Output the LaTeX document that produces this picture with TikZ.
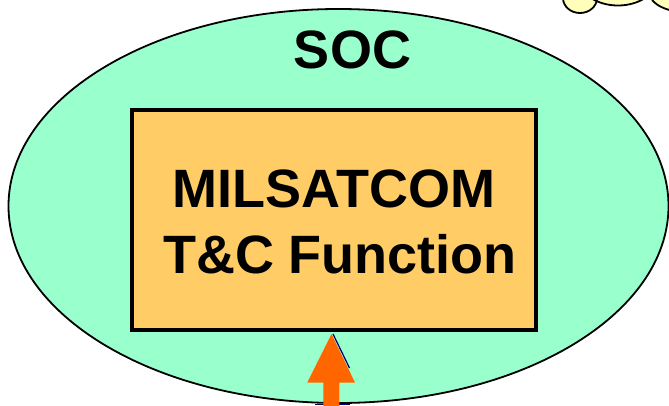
\documentclass[tikz,border=0pt]{standalone}
\usepackage{fontspec}
\setmainfont{Liberation Sans}
\usetikzlibrary{shapes.geometric}
\definecolor{socgreen}{HTML}{99FFCC}
\definecolor{boxorange}{HTML}{FFCC66}
\definecolor{arroworange}{HTML}{FF6600}
\definecolor{cloudyellow}{HTML}{FFFFBB}
\definecolor{shadownavy}{HTML}{000066}
\begin{document}
\begin{tikzpicture}[x=1pt,y=-1pt,
  bigtext/.style={font=\fontsize{54}{66}\selectfont\bfseries, inner sep=0pt, text=black},
  bubble/.style={fill=cloudyellow},
  bubbleline/.style={draw=black, line width=1.8pt}]
\useasboundingbox (0,0) rectangle (669,405);
\clip (0,0) rectangle (669,405);
% cloud (partial, top right)
\fill[bubble] (580,-2) ellipse [x radius=17, y radius=15];
\fill[bubble] (618,-20) ellipse [x radius=38, y radius=25.5];
\fill[bubble] (692,-6) ellipse [x radius=42, y radius=19];
\draw[bubbleline] (580,-2) ellipse [x radius=17, y radius=15];
\draw[bubbleline] (618,-20) ellipse [x radius=38, y radius=25.5];
\draw[bubbleline] (692,-6) ellipse [x radius=42, y radius=19];
% SOC ellipse
\node[ellipse, draw=black, line width=1.8pt, fill=socgreen, minimum width=660, minimum height=394, inner sep=0pt] (soc) at (338.5,206) {};
\node[bigtext, anchor=base] (soclabel) at (352.5,68) {SOC};
% MILSATCOM box
\node[draw=black, line width=4pt, fill=boxorange, minimum width=404, minimum height=220, inner sep=0pt] (tc) at (334,220) {};
\node[bigtext, anchor=base] (tcl1) at (334,207) {MILSATCOM};
\node[bigtext, anchor=base] (tcl2) at (340,273) {T\&C Function};
% arrow
\draw[shadownavy, line width=1.2pt] (333,334) -- (349.5,368);
\draw[shadownavy, line width=1.2pt] (315,404.5) -- (350,404.5);
\fill[arroworange] (331.5,334) -- (355,382.5) -- (339.3,382.5) -- (339.3,406) -- (323.3,406) -- (323.3,382.5) -- (307.3,382.5) -- cycle;
\end{tikzpicture}
\end{document}
